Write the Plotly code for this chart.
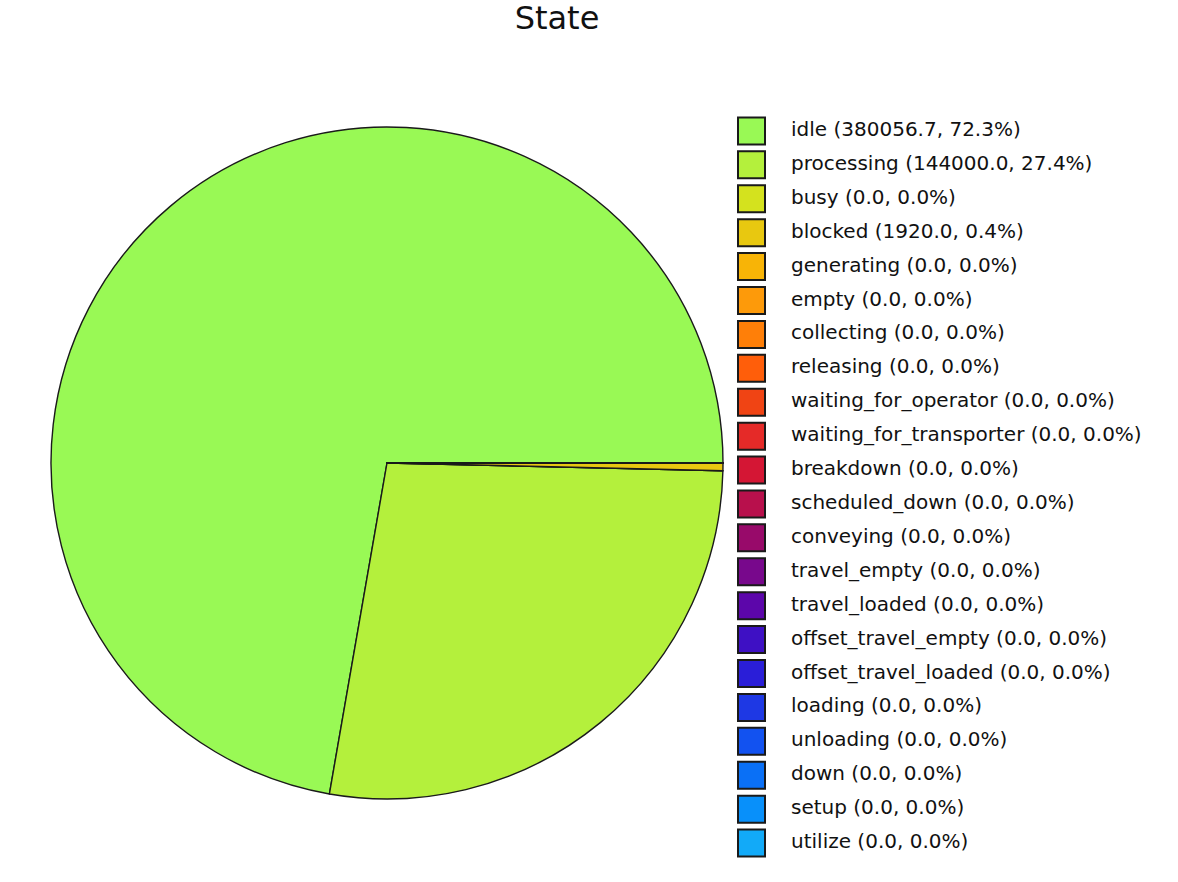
import plotly.graph_objects as go

states = ["idle", "processing", "busy", "blocked", "generating", "empty", "collecting",
          "releasing", "waiting_for_operator", "waiting_for_transporter", "breakdown",
          "scheduled_down", "conveying", "travel_empty", "travel_loaded",
          "offset_travel_empty", "offset_travel_loaded", "loading", "unloading",
          "down", "setup", "utilize"]
values = [380056.7, 144000.0, 0.0, 1920.0, 0.0, 0.0, 0.0, 0.0, 0.0, 0.0, 0.0,
          0.0, 0.0, 0.0, 0.0, 0.0, 0.0, 0.0, 0.0, 0.0, 0.0, 0.0]
colors = ["#99f955", "#b4f03c", "#d4e21e", "#e8c810", "#f8b406", "#fd9a0a", "#ff7f08",
          "#ff5e0a", "#f04414", "#e52a28", "#d41634", "#b8104c", "#980a6a", "#78088c",
          "#5c06aa", "#3e10c4", "#2a1ed8", "#1e38e4", "#1252f0", "#0a70f6", "#0890fa",
          "#12aaf8"]

total = sum(values)
legend_text = [f"{s} ({v:.1f}, {100 * v / total:.1f}%)" for s, v in zip(states, values)]

W, H = 1178, 882
fig = go.Figure()

# pie: first slice starts at 3 o'clock and runs counterclockwise.
# Plotly anchors the clockwise end of the first slice at `rotation` for ccw pies.
rot = 90 - 360 * values[0] / total
cx, cy, r = 387, 463, 336
fig.add_trace(go.Pie(
    labels=states, values=values, sort=False, direction="counterclockwise",
    rotation=rot, textinfo="none", showlegend=False,
    marker=dict(colors=colors, line=dict(color="#1a1a1a", width=1.4)),
    domain=dict(x=[(cx - r) / W, (cx + r) / W], y=[(H - cy - r) / H, (H - cy + r) / H]),
))

# legend drawn as a scatter on its own axes (one row per state)
BOX_X = 14.5
TEXT_X = 54
fig.add_trace(go.Scatter(
    x=[BOX_X] * len(states), y=list(range(len(states))), mode="markers",
    marker=dict(symbol="square", size=27, color=colors, line=dict(color="#1a1a1a", width=2)),
    xaxis="x2", yaxis="y2", showlegend=False, hoverinfo="skip",
))
fig.add_trace(go.Scatter(
    x=[TEXT_X] * len(states), y=list(range(len(states))), mode="text",
    text=legend_text, textposition="middle right",
    textfont=dict(family="DejaVu Sans", size=20, color="#111111"),
    xaxis="x2", yaxis="y2", showlegend=False, hoverinfo="skip",
))

top_px, bot_px = 114, 860
fig.update_layout(
    width=W, height=H, margin=dict(l=0, r=0, t=0, b=0),
    paper_bgcolor="white", plot_bgcolor="white",
    title=dict(text="State", x=557 / W, xanchor="center", y=1 - 18 / H, yanchor="middle",
               font=dict(family="DejaVu Sans", size=32, color="#111111")),
    xaxis2=dict(domain=[737 / W, 1.0], range=[0, W - 737], visible=False, fixedrange=True),
    yaxis2=dict(domain=[(H - bot_px) / H, (H - top_px) / H], range=[len(states) - 0.5, -0.5],
                visible=False, fixedrange=True),
)

fig.write_html("out.html")
